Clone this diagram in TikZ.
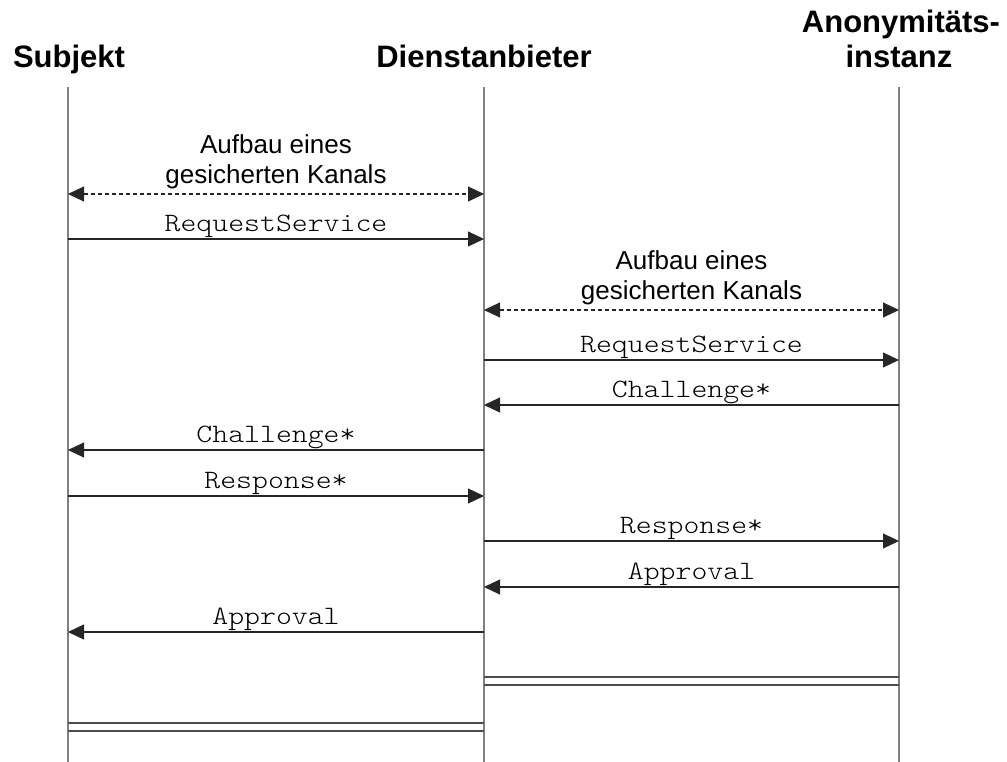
\documentclass[tikz,border=0pt]{standalone}
\usepackage{fontspec}
\setmainfont{Liberation Sans}
\newfontfamily\msgmono[FakeStretch=1.143]{lmmonolt10-regular.otf}
\usetikzlibrary{arrows.meta}

\tikzset{
  lifeline/.style={draw=black!50, line width=1.5pt},
  title/.style={font=\fontsize{31}{35}\selectfont\bfseries, anchor=base, inner sep=0pt},
  msg/.style={draw=black!85, line width=1.1pt, -{Triangle[length=16pt, width=15pt]}},
  chan/.style={draw=black!85, line width=1.1pt, dash pattern=on 4pt off 3pt,
    {Triangle[length=16pt, width=15pt]}-{Triangle[length=16pt, width=15pt]}},
  msglabel/.style={font=\fontsize{26.5}{30}\selectfont\msgmono, anchor=base, inner sep=0pt},
  chanlabel/.style={font=\fontsize{26}{30}\selectfont, align=center, anchor=south,
    inner sep=0pt, text depth=0pt},
  release/.style={draw=black!70, line width=1.2pt},
}

% message: style, from, to, y, label
\newcommand{\sendmsg}[5]{%
  \draw[msg] (#2 |- 0,#4) -- node[msglabel, yshift=7.5pt, anchor=base] {#5} (#3 |- 0,#4);}
\newcommand{\openchan}[3]{%
  \draw[chan] (#1 |- 0,#3) -- node[chanlabel, yshift=10pt] {Aufbau eines\\gesicherten Kanals} (#2 |- 0,#3);}

\begin{document}
\begin{tikzpicture}[x=1pt, y=-1pt]
  \useasboundingbox (0,0) rectangle (1007,762);

  % participants
  \node[title] (tS) at (69,67.7) {Subjekt};
  \node[title] (tD) at (484,67.7) {Dienstanbieter};
  \node[title] (tA1) at (901,33) {Anonymitäts-};
  \node[title] (tA) at (899,68) {instanz};

  % lifelines
  \coordinate (S) at (68,87);   \coordinate (Sb) at (68,762);
  \coordinate (D) at (484,87);  \coordinate (Db) at (484,762);
  \coordinate (A) at (899,87);  \coordinate (Ab) at (899,762);
  \draw[lifeline] (S) -- (Sb);
  \draw[lifeline] (D) -- (Db);
  \draw[lifeline] (A) -- (Ab);

  % messages
  \openchan{S}{D}{194}
  \sendmsg{msg}{S}{D}{239}{RequestService}
  \openchan{D}{A}{310}
  \sendmsg{msg}{D}{A}{360}{RequestService}
  \sendmsg{msg}{A}{D}{405}{Challenge*}
  \sendmsg{msg}{D}{S}{450}{Challenge*}
  \sendmsg{msg}{S}{D}{496}{Response*}
  \sendmsg{msg}{D}{A}{541}{Response*}
  \sendmsg{msg}{A}{D}{587}{Approval}
  \sendmsg{msg}{D}{S}{632}{Approval}

  % channel releases
  \draw[release] (D |- 0,677) -- (A |- 0,677);
  \draw[release] (D |- 0,685) -- (A |- 0,685);
  \draw[release] (S |- 0,723) -- (D |- 0,723);
  \draw[release] (S |- 0,731) -- (D |- 0,731);
\end{tikzpicture}
\end{document}
